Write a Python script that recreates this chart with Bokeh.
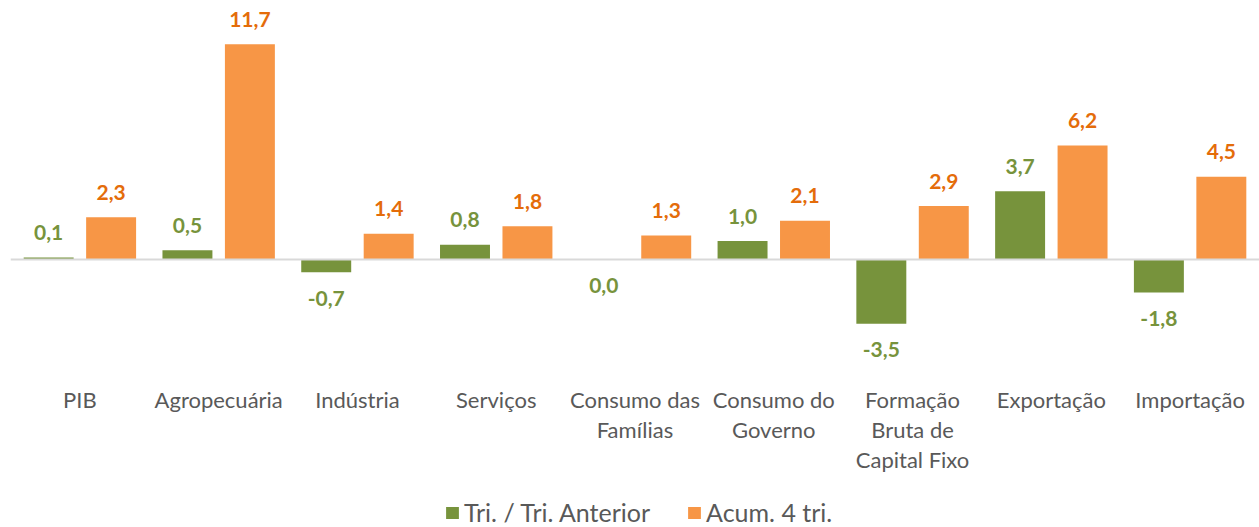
from bokeh.plotting import figure
from bokeh.models import ColumnDataSource, FactorRange, Span, Legend, LegendItem
from bokeh.transform import dodge
from bokeh.core.properties import value
from bokeh.embed import file_html
from bokeh.resources import INLINE

categories = ["PIB", "Agropecuária", "Indústria", "Serviços", "Consumo das Famílias",
              "Consumo do Governo", "Formação Bruta de Capital Fixo", "Exportação", "Importação"]
cat_labels = ["PIB", "Agropecuária", "Indústria", "Serviços", "Consumo das\nFamílias",
              "Consumo do\nGoverno", "Formação\nBruta de\nCapital Fixo", "Exportação", "Importação"]
tri_anterior = [0.1, 0.5, -0.7, 0.8, 0.0, 1.0, -3.5, 3.7, -1.8]
acum_4tri = [2.3, 11.7, 1.4, 1.8, 1.3, 2.1, 2.9, 6.2, 4.5]
series_names = ["Tri. / Tri. Anterior", "Acum. 4 tri."]

GREEN = "#77933C"
ORANGE = "#F79646"
ORANGE_TXT = "#E46C0A"
GRAY_TXT = "#595959"
FONT = "Lato"

LEFT, TOP = 10, 8
FW, FH = 1249, 519
y_start, y_end = -14.57, 13.64
ppu = FH / (y_end - y_start)

def fmt(v):
    return f"{v:.1f}".replace(".", ",")

src = ColumnDataSource(dict(
    cat=categories,
    label=cat_labels,
    tri=tri_anterior,
    acum=acum_4tri,
    tri_txt=[fmt(v) for v in tri_anterior],
    acum_txt=[fmt(v) for v in acum_4tri],
    tri_off=[26 if v <= 0 else -25 for v in tri_anterior],
    acum_off=[26 if v < 0 else -25 for v in acum_4tri],
    base=[0.0] * len(categories),
))

p = figure(x_range=FactorRange(*categories, range_padding=0), y_range=(y_start, y_end),
           width=LEFT + FW, height=TOP + FH, output_backend="svg", toolbar_location=None,
           min_border_left=LEFT, min_border_right=0, min_border_top=TOP, min_border_bottom=0)
p.outline_line_color = None
p.xaxis.visible = False
p.yaxis.visible = False
p.xgrid.visible = False
p.ygrid.visible = False
p.background_fill_color = "white"
p.border_fill_color = "white"

r1 = p.vbar(x=dodge("cat", -0.225, range=p.x_range), top="tri", bottom="base", width=0.36,
            source=src, fill_color=GREEN, line_color=None)
r2 = p.vbar(x=dodge("cat", 0.225, range=p.x_range), top="acum", bottom="base", width=0.36,
            source=src, fill_color=ORANGE, line_color=None)

p.add_layout(Span(location=0, dimension="width", line_color="#D9D9D9", line_width=2))

p.text(x=dodge("cat", -0.225, range=p.x_range), y="tri", text="tri_txt", y_offset="tri_off",
       source=src, text_align="center", text_baseline="middle", text_color=GREEN,
       text_font=value(FONT), text_font_style="bold", text_font_size="21px")
p.text(x=dodge("cat", 0.225, range=p.x_range), y="acum", text="acum_txt", y_offset="acum_off",
       source=src, text_align="center", text_baseline="middle", text_color=ORANGE_TXT,
       text_font=value(FONT), text_font_style="bold", text_font_size="21px")

label_y = -127 / ppu
p.text(x="cat", y=label_y, text="label", source=src, text_align="center", text_baseline="top",
       text_color=GRAY_TXT, text_font=value(FONT), text_font_size="22px", text_line_height=1.1)

legend = Legend(items=[LegendItem(label=series_names[0], renderers=[r1]),
                       LegendItem(label=series_names[1], renderers=[r2])],
                location=(434, 0), orientation="horizontal")
legend.label_text_font = FONT
legend.label_text_font_size = "25px"
legend.label_text_color = GRAY_TXT
legend.glyph_width = 16
legend.glyph_height = 15
legend.label_standoff = 4
legend.spacing = 36
legend.padding = 0
legend.margin = 0
legend.border_line_color = None
legend.background_fill_alpha = 0
p.add_layout(legend)

open("out.html", "w").write(file_html(p, INLINE))
